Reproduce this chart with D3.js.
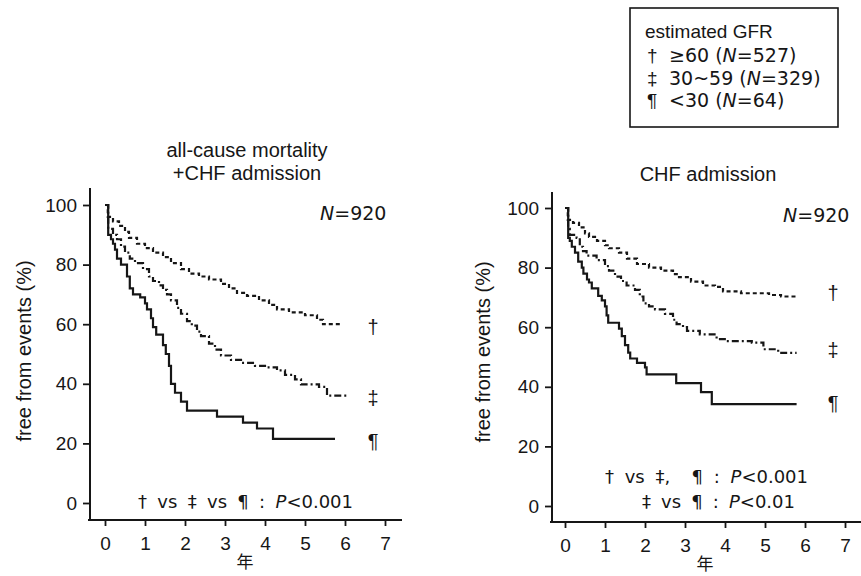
<!DOCTYPE html>
<html><head><meta charset="utf-8">
<script src="https://cdn.jsdelivr.net/npm/d3@7"></script>
<style>
html,body{margin:0;padding:0;background:#fff;}
svg{display:block;font-family:"Liberation Sans",Arial,sans-serif;}
</style></head>
<body><svg id="c" width="861" height="576"></svg>
<script>
// ---------- data ----------
const yearTicks = [0,1,2,3,4,5,6,7];
const pctTicks = [0,20,40,60,80,100];
const seriesNames = ["†","‡","¶"];
const legendValues = ["≥60","30~59","<30"];
const legendN = [527,329,64];
const totalN = 920;

// Left panel: all-cause mortality + CHF admission
const lDaggerT = [0,0.07,0.2,0.35,0.5,0.6,0.8,1.0,1.2,1.45,1.65,1.9,2.1,2.35,2.6,2.9,3.1,3.3,3.55,3.85,4.1,4.3,4.6,5.0,5.3,5.45,5.875];
const lDaggerV = [100,96,94.5,93,91,89,87,85.5,84,82.5,80.5,78.5,77,76,75,73.5,72,70.5,69.5,68,66.5,65,64,63,61.5,60,60];
const lDDaggerT = [0,0.08,0.2,0.3,0.4,0.5,0.62,0.75,0.95,1.1,1.2,1.35,1.45,1.55,1.65,1.8,1.9,2.05,2.17,2.3,2.4,2.6,2.75,2.9,3.15,3.4,3.75,4.0,4.3,4.5,4.75,4.9,5.35,5.55,6.08];
const lDDaggerV = [100,92,90,88.5,86,84,82,80.5,78.5,76,74.5,73,71.5,70,68,65.5,63.5,61,59.5,57.5,56,53.5,51.5,49.5,48,47,46,45.5,44.5,43,41.5,39.8,39,36,36];
const lPilcrowT = [0,0.08,0.15,0.2,0.25,0.3,0.4,0.55,0.62,0.7,0.88,1.0,1.05,1.15,1.2,1.28,1.45,1.52,1.6,1.65,1.75,1.9,2.05,2.8,3.45,3.8,4.2,5.75];
const lPilcrowV = [100,90,88.5,87,85,82,80,76,72,70,69,67,65,62,59,56.5,53,50,46,40,37,34,31,29,27,25,21.5,21.5];

// Right panel: CHF admission
const rDaggerT = [0,0.07,0.2,0.35,0.5,0.6,0.8,1.0,1.1,1.35,1.55,1.8,2.1,2.4,2.7,2.85,3.15,3.45,3.75,3.95,4.4,5.1,5.4,5.79];
const rDaggerV = [100,96,95,93.5,91.5,90.3,89,87.5,86.5,85,83,81.2,80,79,77.8,76.8,75.3,74,73.5,72,71.4,70.8,70.3,70.3];
const rDDaggerT = [0,0.08,0.12,0.29,0.37,0.45,0.54,0.79,1.0,1.1,1.25,1.4,1.54,1.75,1.87,1.96,2.1,2.25,2.5,2.7,2.79,2.95,3.05,3.37,3.79,4.04,4.67,4.96,5.33,5.79];
const rDDaggerV = [100,93,91,90,87,85.5,84,82.5,80.5,79,77,75.5,74,72.5,70.3,68,67,66,64.5,62.5,61,60,58.8,57.6,56,55.3,54.8,52.6,51.4,51.4];
const rPilcrowT = [0,0.08,0.12,0.17,0.25,0.33,0.42,0.46,0.55,0.6,0.67,0.83,0.92,1.0,1.04,1.08,1.35,1.42,1.5,1.58,1.63,1.8,2.0,2.04,2.78,3.4,3.67,5.79];
const rPilcrowV = [100,90,89,87,85,82,80,78,76,75,73,70.5,69,67,64,61.5,59.5,57,54,51.5,49.5,48,46.5,44.2,41.2,38.2,34.2,34.2];

// ---------- drawing ----------
const svg = d3.select("#c");
const ink = "#161616";
const wide = "DejaVu Sans, Verdana, sans-serif";
const dashes = ["4,3","7,3,2,3",null];
const zip = (t,v) => t.map((d,i)=>[d,v[i]]);

function panel(opt){
  const g = svg.append("g");
  const x = d3.scaleLinear().domain([0,7]).range([opt.x0, opt.x0+280]);
  const y = d3.scaleLinear().domain([0,100]).range([opt.y0, opt.y0-298]);

  // y axis
  const ya = g.append("g").attr("transform",`translate(${opt.ax},0)`)
    .call(d3.axisLeft(y).tickValues(pctTicks).tickSize(7).tickPadding(6));
  ya.select(".domain").remove();
  ya.selectAll(".tick line").attr("stroke",ink).attr("stroke-width",1.8);
  ya.selectAll(".tick text").attr("fill",ink).attr("font-size",19).attr("font-family","Liberation Sans, Arial, sans-serif");
  g.append("line").attr("x1",opt.ax).attr("x2",opt.ax).attr("y1",opt.axTop).attr("y2",opt.axY+1)
    .attr("stroke",ink).attr("stroke-width",2);

  // x axis
  const xa = g.append("g").attr("transform",`translate(0,${opt.axY})`)
    .call(d3.axisBottom(x).tickValues(yearTicks).tickSize(6).tickPadding(11).tickFormat(d3.format("d")));
  xa.select(".domain").remove();
  xa.selectAll(".tick line").attr("stroke",ink).attr("stroke-width",1.8);
  xa.selectAll(".tick text").attr("fill",ink).attr("font-size",19).attr("font-family","Liberation Sans, Arial, sans-serif");
  g.append("line").attr("x1",opt.ax-2).attr("x2",opt.axRight).attr("y1",opt.axY).attr("y2",opt.axY)
    .attr("stroke",ink).attr("stroke-width",2);

  g.append("text").attr("x",x(3.5)).attr("y",opt.axY+48).attr("text-anchor","middle")
    .attr("font-family","Noto Sans CJK JP").attr("font-size",17).attr("fill",ink).text("年");

  // y label
  g.append("text").attr("transform",`translate(${opt.ylx},${opt.yly}) rotate(-90)`)
    .attr("text-anchor","middle").attr("font-size",20).attr("fill",ink).text("free from events (%)");

  // curves
  const line = d3.line().x(d=>x(d[0])).y(d=>y(d[1])).curve(d3.curveStepAfter);
  opt.series.forEach((s,i)=>{
    g.append("path").datum(s).attr("d",line).attr("fill","none").attr("stroke",ink)
      .attr("stroke-width",2.2).attr("stroke-dasharray",dashes[i]);
  });

  // series labels
  opt.labelY.forEach((ly,i)=>{
    g.append("text").attr("x",x(6.7)).attr("y",ly).attr("text-anchor","middle")
      .attr("font-size",20).attr("fill",ink).text(seriesNames[i]);
  });

  // N label
  const nt = g.append("text").attr("x",opt.nx).attr("y",opt.ny).attr("font-size",19)
    .attr("font-family",wide).attr("fill",ink);
  nt.append("tspan").attr("font-style","italic").text("N");
  nt.append("tspan").text("="+totalN);

  // titles
  opt.title.forEach((t,i)=>{
    g.append("text").attr("x",opt.tx).attr("y",opt.ty[i]).attr("text-anchor","middle")
      .attr("font-size",20).attr("fill",ink).text(t);
  });

  // p-value notes (spaces widened so the line spans the measured width)
  opt.notes.forEach(n=>{
    const tx = g.append("text").attr("x",n.x).attr("y",n.y).attr("font-size",18)
      .attr("font-family",wide).attr("fill",ink).attr("xml:space","preserve");
    tx.append("tspan").text(n.a);
    tx.append("tspan").attr("font-style","italic").text("P");
    tx.append("tspan").text(n.b);
    const natural = tx.node().getComputedTextLength();
    const spaces = (n.a+n.b).split(" ").length-1;
    tx.attr("word-spacing", Math.max(0,(n.w-natural)/spaces));
  });
}

panel({
  x0:105, y0:503, ax:90, axTop:188, axY:520, axRight:402,
  ylx:31, yly:351,
  series:[zip(lDaggerT,lDaggerV), zip(lDDaggerT,lDDaggerV), zip(lPilcrowT,lPilcrowV)],
  labelY:[334,405,448],
  nx:320, ny:220,
  title:["all-cause mortality","+CHF admission"], tx:247, ty:[157,180],
  notes:[{x:138,y:508,w:215,a:"† vs ‡ vs ¶ : ",b:"<0.001"}]
});
panel({
  x0:565, y0:506, ax:552, axTop:192, axY:522, axRight:861,
  ylx:490, yly:352,
  series:[zip(rDaggerT,rDaggerV), zip(rDDaggerT,rDDaggerV), zip(rPilcrowT,rPilcrowV)],
  labelY:[300,357,410],
  nx:783, ny:222,
  title:["CHF admission"], tx:708, ty:[181],
  notes:[{x:605,y:483,w:203,a:"† vs ‡,  ¶ : ",b:"<0.001"},{x:642,y:508,w:153,a:"‡ vs ¶ : ",b:"<0.01"}]
});

// legend
const lg = svg.append("g");
lg.append("rect").attr("x",630).attr("y",8).attr("width",208).attr("height",119)
  .attr("fill","none").attr("stroke",ink).attr("stroke-width",1.6);
lg.append("text").attr("x",645).attr("y",38).attr("font-size",19).attr("fill",ink).text("estimated GFR");
const legBase = [62,85,107];
seriesNames.forEach((s,i)=>{
  lg.append("text").attr("x",647).attr("y",legBase[i]).attr("font-size",19).attr("fill",ink).text(s);
  const t = lg.append("text").attr("x",669).attr("y",legBase[i]).attr("font-size",19)
    .attr("font-family",wide).attr("fill",ink);
  t.append("tspan").text(legendValues[i]+" (");
  t.append("tspan").attr("font-style","italic").text("N");
  t.append("tspan").text("="+legendN[i]+")");
});
</script></body></html>
